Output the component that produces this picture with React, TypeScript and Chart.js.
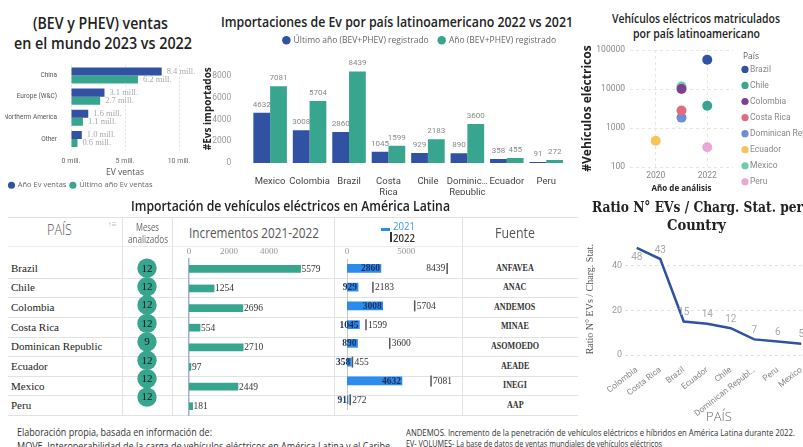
import React, { useEffect, useRef } from 'react';
import { Chart, registerables } from 'chart.js';

Chart.register(...registerables);
Chart.defaults.font.family = "Roboto, 'Noto Sans', sans-serif";

// ---------------- data ----------------
const worldRegions = ['China', 'Europe (W&C)', 'Northerm America', 'Other'];
const worldSales2023 = [8.4, 3.1, 1.6, 1.0];
const worldSales2022 = [6.2, 2.7, 1.1, 0.6];
const worldTicks = [0, 5, 10];

const importCountries = ['Mexico', 'Colombia', 'Brazil', 'Costa Rica', 'Chile', 'Dominican Republic', 'Ecuador', 'Peru'];
const importLabels = [['Mexico'], ['Colombia'], ['Brazil'], ['Costa', 'Rica'], ['Chile'], ['Dominic…', 'Republic'], ['Ecuador'], ['Peru']];
const importsLastYear = [4632, 3008, 2860, 1045, 929, 890, 358, 91];
const importsYear = [7081, 5704, 8439, 1599, 2183, 3600, 455, 272];
const importTicks = [0, 2000, 4000, 6000, 8000];

const regCountries = ['Brazil', 'Chile', 'Colombia', 'Costa Rica', 'Dominican Rep…', 'Ecuador', 'Mexico', 'Peru'];
const regYears = [2022, 2022, 2021, 2021, 2021, 2020, 2021, 2022];
const regVehicles = [56600, 3740, 10000, 2810, 1850, 470, 11660, 320];
const regYearTicks = [2020, 2022];
const regTicks = [100, 1000, 10000, 100000];

const tableCountries = ['Brazil', 'Chile', 'Colombia', 'Costa Rica', 'Dominican Republic', 'Ecuador', 'Mexico', 'Peru'];
const tableMonths = [12, 12, 12, 12, 9, 12, 12, 12];
const tableIncrements = [5579, 1254, 2696, 554, 2710, 97, 2449, 181];
const table2021 = [2860, 929, 3008, 1045, 890, 358, 4632, 91];
const table2022 = [8439, 2183, 5704, 1599, 3600, 455, 7081, 272];
const tableSources = ['ANFAVEA', 'ANAC', 'ANDEMOS', 'MINAE', 'ASOMOEDO', 'AEADE', 'INEGI', 'AAP'];
const incrementTicks = [0, 2000, 4000];
const bulletTicks = [0, 5000];

const ratioCountries = ['Colombia', 'Costa Rica', 'Brazil', 'Ecuador', 'Chile', 'Dominican Republ…', 'Peru', 'Mexico'];
const ratioValues = [48, 43, 15, 14, 12, 7, 6, 5];
const ratioTicks = [0, 20, 40];

// ---------------- styles ----------------
const BLUE = '#3152A3';
const TEAL = '#38A68E';
const BRIGHT = '#2B8CEE';
const regColors = ['#3152A3', '#38A68E', '#7E3F8F', '#E26C7E', '#6B8ED6', '#F7C35B', '#6DCBA6', '#E9A7D5'];
const SANS = "'Open Sans', 'Noto Sans', sans-serif";
const SERIF = "'Liberation Serif', 'DejaVu Serif', serif";
const COND = "Roboto, 'Noto Sans', sans-serif";

const TABLE_TOP = 244.5;
const TABLE_AXIS = 14;
const ROW_H = 19.625;
const rowCenter = (i: number) => TABLE_TOP + TABLE_AXIS + ROW_H * (i + 0.5);

let mctx: CanvasRenderingContext2D | null = null;
function textWidth(t: string, font: string) {
  if (!mctx) mctx = document.createElement('canvas').getContext('2d');
  mctx!.font = font;
  return mctx!.measureText(t).width;
}

type FTProps = {
  text: string; x: number; y: number; w?: number; sx?: number; size: number; weight?: number;
  family?: string; color?: string; align?: 'left' | 'center' | 'right';
};
function FitText({ text, x, y, w, sx, size, weight = 400, family = SANS, color = '#222', align = 'center' }: FTProps) {
  const font = `${weight} ${size}px ${family}`;
  const nat = textWidth(text, font);
  const s = w ? w / nat : sx || 1;
  const width = nat * s;
  const left = align === 'center' ? x - width / 2 : align === 'right' ? x - width : x;
  return (
    <div
      style={{
        position: 'absolute', left, top: y - size / 2, fontFamily: family, fontSize: size, fontWeight: weight,
        lineHeight: `${size}px`, color, whiteSpace: 'nowrap', transform: `scaleX(${s})`, transformOrigin: '0 50%',
      }}
    >
      {text}
    </div>
  );
}

function ChartCanvas({ x, y, w, h, config }: { x: number; y: number; w: number; h: number; config: () => any }) {
  const ref = useRef<HTMLCanvasElement>(null);
  useEffect(() => {
    const chart = new Chart(ref.current!, config());
    return () => chart.destroy();
  }, []);
  return <canvas ref={ref} width={w} height={h} style={{ position: 'absolute', left: x, top: y, width: w, height: h }} />;
}

const fixTicks = (vals: number[]) => (s: any) => {
  s.ticks = vals.map((v) => ({ value: v }));
};
const plain = (v: any) => String(v);
const noTip = { tooltip: { enabled: false } };

// ---------------- chart configs ----------------
function worldConfig() {
  return {
    type: 'bar',
    data: {
      labels: worldRegions,
      datasets: [
        { label: 'Año Ev ventas', data: worldSales2023, backgroundColor: BLUE, categoryPercentage: 0.76, barPercentage: 1 },
        { label: 'Último año Ev ventas', data: worldSales2022, backgroundColor: TEAL, categoryPercentage: 0.76, barPercentage: 1 },
      ],
    },
    options: {
      indexAxis: 'y', responsive: false, animation: false, events: [],
      layout: { padding: { left: 5, top: 6, right: 21, bottom: 0 } },
      scales: {
        x: {
          min: 0, max: 10, afterBuildTicks: fixTicks(worldTicks),
          afterFit: (s: any) => { s.height = 28; },
          ticks: { callback: (v: any) => `${v} mill.`, font: { size: 7 }, color: '#666', padding: 8 },
          grid: { color: '#e4e4e4', drawTicks: false },
          border: { display: false, dash: [2, 2] },
          title: { display: true, text: 'EV ventas', font: { size: 8.5, family: SANS }, color: '#555', padding: { top: 0, bottom: 0 } },
        },
        y: {
          afterFit: (s: any) => { s.width = 66; },
          ticks: { font: { size: 6.5 }, color: '#555', padding: 6 },
          grid: { display: false }, border: { display: false },
        },
      },
      plugins: {
        ...noTip,
        legend: {
          position: 'bottom', align: 'start',
          labels: { usePointStyle: true, pointStyle: 'circle', boxWidth: 5, boxHeight: 5, padding: 4, font: { size: 7.5, family: SANS }, color: '#666' },
        },
      },
    },
    plugins: [{
      id: 'worldLabels',
      afterDatasetsDraw(chart: any) {
        const ctx = chart.ctx;
        ctx.save();
        ctx.font = `8.5px ${SERIF}`;
        ctx.fillStyle = '#aaa';
        ctx.textBaseline = 'middle';
        chart.data.datasets.forEach((ds: any, di: number) => {
          chart.getDatasetMeta(di).data.forEach((el: any, i: number) => {
            ctx.fillText(`${Number(ds.data[i]).toFixed(1)} mill.`, el.x + 5, el.y);
          });
        });
        ctx.restore();
      },
    }],
  };
}

function importsConfig() {
  return {
    type: 'bar',
    data: {
      labels: importLabels,
      datasets: [
        { label: 'Último año (BEV+PHEV) registrado', data: importsLastYear, backgroundColor: BLUE, categoryPercentage: 0.85, barPercentage: 1 },
        { label: 'Año (BEV+PHEV) registrado', data: importsYear, backgroundColor: TEAL, categoryPercentage: 0.85, barPercentage: 1 },
      ],
    },
    options: {
      responsive: false, animation: false, events: [],
      layout: { padding: { left: 0, top: 0, right: 14, bottom: 0 } },
      scales: {
        x: {
          afterFit: (s: any) => { s.height = 32; },
          ticks: { font: { size: 9.5 }, color: '#444', padding: 5, autoSkip: false, maxRotation: 0 },
          grid: { display: false }, border: { display: false },
        },
        y: {
          min: 0, max: 10000, afterBuildTicks: fixTicks(importTicks),
          afterFit: (s: any) => { s.width = 50.4; },
          ticks: { callback: plain, font: { size: 8.5 }, color: '#999', padding: 19 },
          grid: { display: false, drawTicks: false }, border: { display: false },
          title: { display: true, text: '#Evs importados', font: { size: 10, weight: 'bold', family: SANS }, color: '#222', padding: { top: 2, bottom: 0 } },
        },
      },
      plugins: {
        ...noTip,
        legend: {
          position: 'top', align: 'end',
          labels: { usePointStyle: true, pointStyle: 'circle', boxWidth: 6, boxHeight: 6, padding: 10, font: { size: 8.5, family: SANS }, color: '#666' },
        },
      },
    },
    plugins: [{
      id: 'importLabels',
      afterDatasetsDraw(chart: any) {
        const ctx = chart.ctx;
        ctx.save();
        ctx.font = `8px ${COND}`;
        ctx.fillStyle = '#888';
        ctx.textAlign = 'center';
        ctx.textBaseline = 'bottom';
        chart.data.datasets.forEach((ds: any, di: number) => {
          chart.getDatasetMeta(di).data.forEach((el: any, i: number) => {
            ctx.fillText(String(ds.data[i]), el.x, el.y - 4);
          });
        });
        ctx.restore();
      },
    }],
  };
}

function regConfig() {
  return {
    type: 'scatter',
    data: {
      datasets: regCountries.map((c, i) => ({
        label: c,
        data: [{ x: regYears[i], y: regVehicles[i] }],
        backgroundColor: regColors[i], borderColor: regColors[i], pointRadius: 5, borderWidth: 0,
      })),
    },
    options: {
      responsive: false, animation: false, events: [],
      layout: { padding: { left: 0, top: 5, right: 83, bottom: 0 } },
      scales: {
        x: {
          type: 'linear', min: 2019, max: 2023, afterBuildTicks: fixTicks(regYearTicks),
          afterFit: (s: any) => { s.height = 27; },
          ticks: { callback: plain, font: { size: 8.5 }, color: '#888', padding: 4 },
          grid: { color: '#e6e6e6', drawTicks: false }, border: { display: false, dash: [3, 3] },
          title: { display: true, text: 'Año de análisis', font: { size: 8, weight: 'bold', family: SANS }, color: '#222', padding: { top: 0, bottom: 0 } },
        },
        y: {
          type: 'logarithmic', min: 100, max: 100000, afterBuildTicks: fixTicks(regTicks),
          afterFit: (s: any) => { s.width = 50; },
          ticks: { callback: plain, font: { size: 8.5 }, color: '#888', padding: 5 },
          grid: { color: '#e6e6e6', drawTicks: false }, border: { display: false, dash: [3, 3] },
          title: { display: true, text: '#Vehículos eléctricos', font: { size: 12, weight: 'bold', family: SANS }, color: '#222', padding: { top: 0, bottom: 0 } },
        },
      },
      plugins: { ...noTip, legend: { display: false } },
    },
    plugins: [{
      id: 'regLegend',
      afterDraw(chart: any) {
        const ctx = chart.ctx;
        const { right, top } = chart.chartArea;
        const dotX = right + 12;
        ctx.save();
        ctx.textBaseline = 'middle';
        ctx.textAlign = 'left';
        ctx.font = `8.5px ${SANS}`;
        ctx.fillStyle = '#666';
        ctx.fillText('País', dotX - 2, top + 6);
        ctx.font = `8.5px ${COND}`;
        chart.data.datasets.forEach((ds: any, i: number) => {
          const y = top + 19.3 + 16.06 * i;
          ctx.fillStyle = ds.backgroundColor;
          ctx.beginPath();
          ctx.arc(dotX, y, 3.6, 0, Math.PI * 2);
          ctx.fill();
          ctx.fillStyle = '#888';
          ctx.fillText(ds.label, dotX + 5, y);
        });
        ctx.restore();
      },
    }],
  };
}

function ratioConfig() {
  return {
    type: 'line',
    data: {
      labels: ratioCountries,
      datasets: [{ label: 'Ratio', data: ratioValues, borderColor: BLUE, borderWidth: 2.5, pointRadius: 0, tension: 0, fill: false }],
    },
    options: {
      responsive: false, animation: false, events: [],
      layout: { padding: { left: 0, top: 8, right: 3, bottom: 0 } },
      scales: {
        x: {
          offset: true,
          afterFit: (s: any) => { s.height = 70; },
          ticks: { font: { size: 8.5 }, color: '#888', padding: 2, autoSkip: false, minRotation: 38, maxRotation: 38 },
          grid: { display: false }, border: { display: false },
          title: { display: true, text: 'PAÍS', font: { size: 13, weight: 300, family: SANS }, color: '#666', padding: { top: 0, bottom: 0 } },
        },
        y: {
          min: 0, max: 50, afterBuildTicks: fixTicks(ratioTicks),
          afterFit: (s: any) => { s.width = 45; },
          ticks: { callback: plain, font: { size: 9 }, color: '#999', padding: 3 },
          grid: { color: '#e2e2e2', drawTicks: false }, border: { display: false, dash: [3, 3] },
          title: { display: true, text: 'Ratio N° EVs / Charg. Stat.', font: { size: 10, family: SERIF }, color: '#555', padding: { top: 4, bottom: 0 } },
        },
      },
      plugins: { ...noTip, legend: { display: false } },
    },
    plugins: [{
      id: 'ratioLabels',
      afterDatasetsDraw(chart: any) {
        const ctx = chart.ctx;
        const top = chart.chartArea.top;
        ctx.save();
        ctx.font = `10px ${COND}`;
        ctx.fillStyle = '#aaa';
        ctx.textAlign = 'center';
        ctx.textBaseline = 'middle';
        chart.getDatasetMeta(0).data.forEach((el: any, i: number) => {
          const above = el.y - 9;
          const yy = above - 5 < top ? el.y + 10 : above;
          ctx.fillText(String(ratioValues[i]), el.x, yy);
        });
        ctx.restore();
      },
    }],
  };
}

function monthsConfig() {
  return {
    type: 'scatter',
    data: {
      datasets: [{
        label: 'Meses analizados',
        data: tableMonths.map((m, i) => ({ x: 0, y: tableCountries[i], m })),
        backgroundColor: TEAL, borderWidth: 0, pointRadius: 9.7,
      }],
    },
    options: {
      responsive: false, animation: false, events: [],
      layout: { padding: { left: 0, top: TABLE_AXIS, right: 0, bottom: 0 } },
      scales: {
        x: { type: 'linear', min: -1, max: 1, display: false },
        y: { type: 'category', labels: tableCountries, offset: true, display: false },
      },
      plugins: { ...noTip, legend: { display: false } },
    },
    plugins: [{
      id: 'monthLabels',
      afterDatasetsDraw(chart: any) {
        const ctx = chart.ctx;
        ctx.save();
        ctx.font = `11px ${SERIF}`;
        ctx.fillStyle = '#1a1a1a';
        ctx.textAlign = 'center';
        ctx.textBaseline = 'middle';
        chart.getDatasetMeta(0).data.forEach((el: any, i: number) => {
          ctx.fillText(String(tableMonths[i]), el.x, el.y + 0.5);
        });
        ctx.restore();
      },
    }],
  };
}

function incrementsConfig() {
  return {
    type: 'bar',
    data: {
      labels: tableCountries,
      datasets: [{ label: 'Incrementos 2021-2022', data: tableIncrements, backgroundColor: TEAL, barThickness: 7 }],
    },
    options: {
      indexAxis: 'y', responsive: false, animation: false, events: [],
      layout: { padding: { left: 17, top: 0, right: 29, bottom: 0 } },
      scales: {
        x: {
          position: 'top', min: 0, max: 5800, afterBuildTicks: fixTicks(incrementTicks),
          afterFit: (s: any) => { s.height = TABLE_AXIS; },
          ticks: { callback: plain, font: { size: 9, family: SERIF }, color: '#999', padding: 2 },
          grid: { display: false, drawTicks: false }, border: { display: false },
        },
        y: {
          afterFit: (s: any) => { s.width = 0; },
          ticks: { display: false }, grid: { display: false, drawTicks: false },
          border: { display: true, color: '#9fb0d8', width: 1.5 },
        },
      },
      plugins: { ...noTip, legend: { display: false } },
    },
    plugins: [{
      id: 'incLabels',
      afterDatasetsDraw(chart: any) {
        const ctx = chart.ctx;
        ctx.save();
        ctx.font = `9.5px ${SERIF}`;
        ctx.fillStyle = '#333';
        ctx.textBaseline = 'middle';
        chart.getDatasetMeta(0).data.forEach((el: any, i: number) => {
          ctx.fillText(String(tableIncrements[i]), el.x + 1, el.y + 0.5);
        });
        ctx.restore();
      },
    }],
  };
}

function bulletConfig() {
  return {
    type: 'bar',
    data: {
      labels: tableCountries,
      datasets: [
        { label: '2021', data: table2021, backgroundColor: BRIGHT, barThickness: 8, order: 2 },
        {
          type: 'line', label: '2022', data: table2022, indexAxis: 'y', showLine: false, order: 1,
          pointStyle: 'line', rotation: 90, pointRadius: 5.5, borderColor: '#555', borderWidth: 1.5, backgroundColor: '#555',
        },
      ],
    },
    options: {
      indexAxis: 'y', responsive: false, animation: false, events: [],
      layout: { padding: { left: 13, top: 0, right: 4, bottom: 0 } },
      scales: {
        x: {
          position: 'top', min: 0, max: 9100, afterBuildTicks: fixTicks(bulletTicks),
          afterFit: (s: any) => { s.height = TABLE_AXIS; },
          ticks: { callback: plain, font: { size: 9, family: SERIF }, color: '#999', padding: 2 },
          grid: { display: false, drawTicks: false }, border: { display: false },
        },
        y: {
          afterFit: (s: any) => { s.width = 0; },
          ticks: { display: false }, grid: { display: false, drawTicks: false },
          border: { display: true, color: '#c8c8c8', width: 1 },
        },
      },
      plugins: { ...noTip, legend: { display: false } },
    },
    plugins: [{
      id: 'bulletLabels',
      afterDatasetsDraw(chart: any) {
        const ctx = chart.ctx;
        const W = chart.width;
        ctx.save();
        ctx.textBaseline = 'middle';
        ctx.font = `bold 9.5px ${SERIF}`;
        ctx.fillStyle = '#1b2d5a';
        ctx.textAlign = 'right';
        chart.getDatasetMeta(0).data.forEach((el: any, i: number) => {
          ctx.fillText(String(table2021[i]), el.x - 1, el.y + 0.5);
        });
        ctx.font = `9.5px ${SERIF}`;
        ctx.fillStyle = '#333';
        chart.getDatasetMeta(1).data.forEach((el: any, i: number) => {
          const t = String(table2022[i]);
          const tw = ctx.measureText(t).width;
          if (el.x + 2 + tw > W - 1) {
            ctx.textAlign = 'right';
            ctx.fillText(t, el.x - 2, el.y + 0.5);
          } else {
            ctx.textAlign = 'left';
            ctx.fillText(t, el.x + 2, el.y + 0.5);
          }
        });
        ctx.restore();
      },
    }],
  };
}

// ---------------- layout helpers ----------------
const HLine = ({ x1, x2, y, c = '#e2e2e2' }: { x1: number; x2: number; y: number; c?: string }) => (
  <div style={{ position: 'absolute', left: x1, top: y - 0.5, width: x2 - x1, height: 1, background: c }} />
);
const VLine = ({ x, y1, y2, c = '#e2e2e2' }: { x: number; y1: number; y2: number; c?: string }) => (
  <div style={{ position: 'absolute', left: x - 0.5, top: y1, width: 1, height: y2 - y1, background: c }} />
);

export default function App() {
  const tableBottom = TABLE_TOP + TABLE_AXIS + ROW_H * tableCountries.length;
  return (
    <div style={{ position: 'absolute', left: 0, top: 0, width: 803, height: 447, overflow: 'hidden', background: '#fff' }}>
      {/* Top-left: world sales */}
      <FitText text="(BEV y PHEV) ventas" x={100} y={22} w={135} size={17} weight={600} />
      <FitText text="en el mundo 2023 vs 2022" x={103} y={42} w={178} size={17} weight={600} />
      <ChartCanvas x={0} y={55} w={200} h={144} config={worldConfig} />

      {/* Top-middle: imports */}
      <FitText text="Importaciones de Ev por país latinoamericano 2022 vs 2021" x={397} y={21} w={352} size={15} weight={600} />
      <ChartCanvas x={200} y={26} w={380} h={169} config={importsConfig} />

      {/* Top-right: registrations */}
      <FitText text="Vehículos eléctricos matriculados" x={696} y={18} w={168} size={13} weight={600} />
      <FitText text="por país latinoamericano" x={696.5} y={33} w={127} size={13} weight={600} />
      <ChartCanvas x={580} y={40} w={236} h={154} config={regConfig} />

      {/* Table */}
      <FitText text="Importación de vehículos eléctricos en América Latina" x={290.5} y={205} w={319} size={15} weight={600} />
      <HLine x1={8} x2={578} y={217} />
      <HLine x1={8} x2={578} y={246.5} c="#ececec" />
      {tableCountries.map((_, i) => (
        <HLine key={'r' + i} x1={8} x2={578} y={TABLE_TOP + TABLE_AXIS + ROW_H * (i + 1)} />
      ))}
      {[122, 172.5, 334, 462.5].map((x) => (
        <VLine key={'v' + x} x={x} y1={217} y2={tableBottom} />
      ))}
      <FitText text="PAÍS" x={59} y={229.5} w={25} size={15} weight={300} color="#555" />
      <FitText text="↑≡" x={112} y={224} size={8} color="#bbb" />
      <FitText text="Meses" x={147} y={227} w={23} size={10} color="#666" />
      <FitText text="analizados" x={147.5} y={239} w={40} size={10} color="#666" />
      <FitText text="Incrementos 2021-2022" x={254} y={232.5} w={130} size={14} color="#555" />
      <div style={{ position: 'absolute', left: 381, top: 227.5, width: 9, height: 3, background: BRIGHT }} />
      <FitText text="2021" x={393} y={225.5} w={22} size={11} color="#3d9af0" align="left" />
      <div style={{ position: 'absolute', left: 389.5, top: 232, width: 2, height: 10, background: '#333' }} />
      <FitText text="2022" x={393} y={237} w={22} size={11} weight={600} color="#333" align="left" />
      <FitText text="Fuente" x={515} y={232} w={40} size={15} color="#555" />
      {tableCountries.map((c, i) => (
        <FitText key={'c' + i} text={c} x={11} y={rowCenter(i)} size={11} family={SERIF} color="#222" align="left" />
      ))}
      {tableSources.map((s, i) => (
        <FitText key={'s' + i} text={s} x={515} y={rowCenter(i)} sx={0.85} size={9.5} weight={600} family={SERIF} color="#333" />
      ))}
      <ChartCanvas x={122} y={TABLE_TOP} w={50} h={TABLE_AXIS + ROW_H * tableCountries.length} config={monthsConfig} />
      <ChartCanvas x={172} y={TABLE_TOP} w={162} h={TABLE_AXIS + ROW_H * tableCountries.length} config={incrementsConfig} />
      <ChartCanvas x={334} y={TABLE_TOP} w={128} h={TABLE_AXIS + ROW_H * tableCountries.length} config={bulletConfig} />

      {/* Bottom-right: ratio */}
      <FitText text="Ratio N° EVs / Charg. Stat. per" x={697.5} y={207} w={211} size={14} weight={700} family="'DejaVu Serif', serif" color="#222" />
      <FitText text="Country" x={696.5} y={225} w={59} size={14} weight={700} family="'DejaVu Serif', serif" color="#222" />
      <ChartCanvas x={580} y={235} w={236} h={190} config={ratioConfig} />

      {/* Footer */}
      <FitText text="Elaboración propia, basada en información de:" x={17} y={432} w={195} size={10} color="#333" align="left" />
      <FitText text="MOVE. Interoperabilidad de la carga de vehículos eléctricos en América Latina y el Caribe" x={17} y={446} w={373} size={10} color="#333" align="left" />
      <FitText text="ANDEMOS. Incremento de la penetración de vehículos eléctricos e híbridos en América Latina durante 2022." x={406} y={432} w={389} size={9} color="#333" align="left" />
      <FitText text="EV- VOLUMES- La base de datos de ventas mundiales de vehículos eléctricos" x={406} y={443.5} w={256} size={9} color="#333" align="left" />
    </div>
  );
}
